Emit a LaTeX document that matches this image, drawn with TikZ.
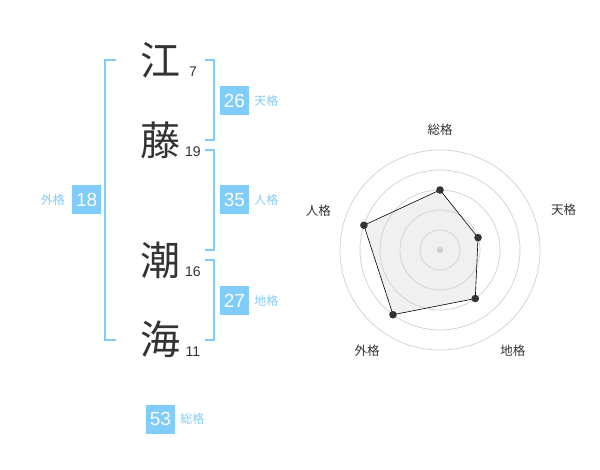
\documentclass[tikz,border=0pt]{standalone}
\usepackage{fontspec}
\setmainfont{Liberation Sans}
\newfontfamily\jp{Noto Sans CJK JP}
\usetikzlibrary{positioning}
\definecolor{kakusky}{RGB}{128,204,250}
\definecolor{kakuink}{RGB}{51,51,51}
\definecolor{ringgray}{RGB}{208,208,208}
\begin{document}
\begin{tikzpicture}
[
    x=1pt, y=-1pt,
    moji/.style={font=\jp\fontsize{40}{40}\selectfont, text=kakuink, inner sep=0pt},
    kakusu/.style={font=\fontsize{14}{14}\selectfont, text=kakuink, inner sep=0pt},
    kakubox/.style={fill=kakusky, text=white, minimum size=29pt, inner sep=0pt, font=\fontsize{19}{19}\selectfont},
    kakuname/.style={font=\jp\fontsize{12}{12}\selectfont, text=kakusky, inner sep=0pt},
    kakku/.style={draw=kakusky, line width=2pt},
    radarname/.style={font=\jp\fontsize{12.5}{12.5}\selectfont, text=kakuink, inner sep=0pt},
]
\useasboundingbox (0,0) rectangle (600,470);
% name characters and stroke counts
\node[moji] (e) at (160,60) {江};
\node[moji] (fuji) at (160,140) {藤};
\node[moji] (ushio) at (160,260) {潮};
\node[moji] (umi) at (160,339) {海};
\node[kakusu] (e-n) at (193,72) {7};
\node[kakusu] (fuji-n) at (193,152) {19};
\node[kakusu] (ushio-n) at (193,272) {16};
\node[kakusu] (umi-n) at (193,352) {11};
% brackets
\draw[kakku] (116,60) -- (105,60) -- (105,340) -- (116,340);
\draw[kakku] (205,60) -- (214,60) -- (214,140) -- (205,140);
\draw[kakku] (205,150) -- (214,150) -- (214,250) -- (205,250);
\draw[kakku] (205,260) -- (214,260) -- (214,340) -- (205,340);
% scores
\node[kakubox] (tenbox) at (234.5,100.5) {26};
\node[kakuname, right=5pt of tenbox] (tenname) {天格};
\node[kakubox] (jinbox) at (234.5,200) {35};
\node[kakuname, right=5pt of jinbox] (jinname) {人格};
\node[kakubox] (chibox) at (234.5,300.5) {27};
\node[kakuname, right=5pt of chibox] (chiname) {地格};
\node[kakubox] (gaibox) at (86.7,200) {18};
\node[kakuname, left=7pt of gaibox] (gainame) {外格};
\node[kakubox] (soubox) at (160.5,419) {53};
\node[kakuname, right=5pt of soubox] (souname) {総格};
% radar
\begin{scope}[shift={(440,250)}, y=1pt]
\coordinate (sou) at (90:60);
\coordinate (ten) at (18:40);
\coordinate (chi) at (-54:60);
\coordinate (gai) at (-126:80);
\coordinate (jin) at (162:80);
\fill[black!6] (sou) -- (ten) -- (chi) -- (gai) -- (jin) -- cycle;
\foreach \r in {20,40,...,100}
    \draw[ringgray, line width=0.7pt] (0,0) circle (\r);
\fill[ringgray] (0,0) circle (3.2);
\draw[black, line width=0.6pt] (sou) -- (ten) -- (chi) -- (gai) -- (jin) -- cycle;
\foreach \p in {sou,ten,chi,gai,jin}
    \fill[kakuink] (\p) circle (3.8);
\node[radarname] (soulbl) at (90:120) {総格};
\node[radarname] (tenlbl) at (18:130) {天格};
\node[radarname] (chilbl) at (-54:124) {地格};
\node[radarname] (gailbl) at (-126:124) {外格};
\node[radarname] (jinlbl) at (162:128) {人格};
\end{scope}
\end{tikzpicture}
\end{document}
